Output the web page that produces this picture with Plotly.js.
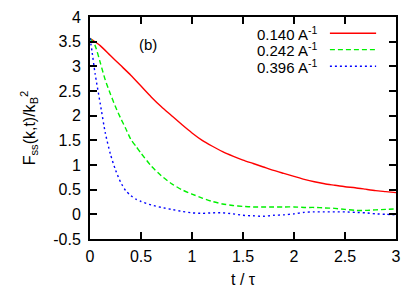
<!DOCTYPE html>
<html><head><meta charset="utf-8">
<script src="https://cdn.plot.ly/plotly-3.0.1.min.js"></script>
<style>html,body{margin:0;padding:0;background:#fff}#c{width:409px;height:292px}</style>
</head><body><div id="c"></div>
<script>
const seriesNames = ['0.140 A<sup>-1</sup>', '0.242 A<sup>-1</sup>', '0.396 A<sup>-1</sup>'];
const tRed = [0,0.1,0.2,0.3,0.4,0.5,0.6,0.7,0.8,0.9,1.0,1.1,1.2,1.3,1.4,1.5,1.6,1.7,1.8,1.9,2.0,2.1,2.2,2.3,2.4,2.5,2.6,2.7,2.8,2.9,3.0];
const fRed = [3.57,3.42,3.22,3.02,2.82,2.60,2.38,2.18,2.00,1.82,1.65,1.50,1.38,1.27,1.18,1.10,1.03,0.96,0.89,0.83,0.77,0.71,0.66,0.62,0.59,0.56,0.54,0.51,0.48,0.46,0.44];
const tGreen = [0,0.05,0.1,0.15,0.2,0.25,0.3,0.35,0.4,0.45,0.5,0.6,0.7,0.8,0.9,1.0,1.1,1.2,1.3,1.4,1.5,1.6,1.7,1.8,1.9,2.0,2.1,2.2,2.3,2.4,2.5,2.6,2.7,2.8,2.9,3.0];
const fGreen = [3.57,3.42,3.08,2.72,2.44,2.18,1.95,1.74,1.52,1.38,1.24,0.98,0.78,0.62,0.50,0.41,0.33,0.26,0.21,0.18,0.16,0.15,0.15,0.15,0.15,0.15,0.14,0.14,0.13,0.12,0.10,0.08,0.08,0.09,0.10,0.11];
const tBlue = [0,0.02,0.05,0.1,0.15,0.2,0.25,0.3,0.35,0.4,0.45,0.5,0.6,0.7,0.8,0.9,1.0,1.1,1.2,1.3,1.4,1.5,1.6,1.7,1.8,1.9,2.0,2.1,2.2,2.3,2.4,2.5,2.6,2.7,2.8,2.9,3.0];
const fBlue = [3.57,3.30,2.85,2.25,1.65,1.22,0.90,0.65,0.48,0.38,0.31,0.26,0.19,0.14,0.10,0.06,0.03,0.02,0.03,0.03,0.01,-0.02,-0.03,-0.04,-0.02,-0.01,0.01,0.04,0.05,0.05,0.05,0.05,0.04,0.03,0.01,0.0,-0.01];
const xTicks = [0,0.5,1,1.5,2,2.5,3];
const yTicks = [-0.5,0,0.5,1,1.5,2,2.5,3,3.5,4];
const xTitle = 't / τ';
const yTitle = 'F<sub>ss</sub>(k,t)/k<sub>B</sub><sup>2</sup>';

const colors = ['#ff0000','#00f000','#0000ff'];
const dashes = ['solid','5px,3px','2px,3px'];
const xs = [tRed,tGreen,tBlue], ys = [fRed,fGreen,fBlue];
const FONT = 'Liberation Sans, Arial, Helvetica, sans-serif';

const traces = xs.map((x,i)=>({x:x,y:ys[i],type:'scatter',mode:'lines',name:seriesNames[i],
  line:{color:colors[i],width:1.4,dash:dashes[i],shape:'spline',smoothing:0.6},showlegend:false}));

const annotations = [
  {xref:'paper',yref:'paper',x:0.153,y:0.925,text:'(b)',showarrow:false,font:{family:FONT,size:15,color:'#000'}},
  {xref:'paper',yref:'paper',x:0.5,y:-0.183,yanchor:'middle',text:xTitle,showarrow:false,font:{family:FONT,size:16,color:'#000'}}
];
const shapes = [];
const rowY = [0.927,0.853,0.778];
seriesNames.forEach((n,i)=>{
  annotations.push({xref:'paper',yref:'paper',x:0.748,y:rowY[i],xanchor:'right',yanchor:'middle',text:n,showarrow:false,font:{family:FONT,size:15,color:'#000'}});
  shapes.push({type:'line',xref:'paper',yref:'paper',x0:0.784,x1:0.935,y0:rowY[i],y1:rowY[i],line:{color:colors[i],width:1.4,dash:dashes[i]}});
});

const axisCommon = {showgrid:false,zeroline:false,showline:true,linecolor:'#000',linewidth:2,mirror:'ticks',
  ticks:'inside',ticklen:7,tickwidth:2,tickcolor:'#000',tickfont:{family:FONT,size:16,color:'#000'}};

const layout = {
  width:409,height:292,margin:{l:90,r:13,t:17,b:53},
  paper_bgcolor:'#fff',plot_bgcolor:'#fff',showlegend:false,
  xaxis:Object.assign({},axisCommon,{range:[0,3],tickvals:xTicks,ticktext:xTicks.map(String),
    ticklabelstandoff:2}),
  yaxis:Object.assign({},axisCommon,{range:[-0.5,4],tickvals:yTicks,ticktext:yTicks.map(String),
    ticklabelstandoff:4,
    title:{text:yTitle,font:{family:FONT,size:16,color:'#000'},standoff:14}}),
  annotations:annotations,shapes:shapes
};
Plotly.newPlot('c',traces,layout,{staticPlot:true,displayModeBar:false});
</script></body></html>
